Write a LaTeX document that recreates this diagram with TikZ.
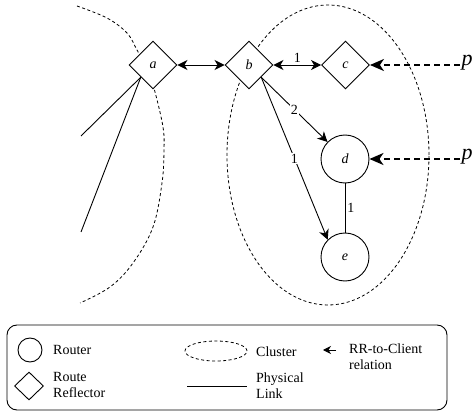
\documentclass[tikz,border=0pt]{standalone}
\usepackage{fontspec}
\setmainfont{Liberation Serif}
\usetikzlibrary{shapes.geometric,arrows.meta}
\begin{document}
\begin{tikzpicture}[x=1pt,y=-1pt,
  rr/.style={diamond, draw, fill=white, minimum width=48pt, minimum height=48pt,
    inner sep=0pt, line width=0.9pt, font=\fontsize{14}{16}\selectfont\itshape},
  router/.style={circle, draw, fill=white, minimum size=48pt, inner sep=0pt,
    line width=0.9pt, font=\fontsize{14}{16}\selectfont\itshape},
  link/.style={line width=0.9pt},
  tipone/.style={link, -{Stealth[length=10pt,width=10pt,inset=3pt]}},
  tiptwo/.style={link, {Stealth[length=10pt,width=10pt,inset=3pt]}-{Stealth[length=10pt,width=10pt,inset=3pt]}},
  cluster/.style={dash pattern=on 3pt off 2.5pt, line width=0.8pt},
  client/.style={line width=1.8pt, dash pattern=on 6pt off 4pt,
    -{Stealth[length=14pt,width=12pt,inset=4pt]}},
  weight/.style={font=\fontsize{14}{16}\selectfont, inner sep=1pt},
  ext/.style={font=\fontsize{22}{24}\selectfont\itshape, inner sep=1.5pt},
  legtext/.style={anchor=west, align=left, font=\fontsize{14}{16}\selectfont, inner sep=0pt}
]
\useasboundingbox (0,0) rectangle (475,412);

% clusters
\draw[cluster] plot[smooth, tension=0.6] coordinates {
  (77,6) (107,18) (127,33) (137,50) (148,70) (155,92) (163,127) (164,150)
  (162,183) (153,227) (133,263) (110,287) (80,303)};
\draw[cluster] (328,155) ellipse [x radius=101pt, y radius=150pt];

% routers and route reflectors
\node[rr] (a) at (153,65) {a};
\node[rr] (b) at (249,65) {b};
\node[rr] (c) at (345.5,65) {c};
\node[router] (d) at (345,159) {d};
\node[router] (e) at (345,257) {e};

% external peers
\node[ext] (p1) at (467,63) {p};
\node[ext] (p2) at (467,157) {p};

% dangling physical links
\coordinate (l1) at (81,136);
\coordinate (l2) at (81,232);
\draw[link] (a.south west) -- (l1);
\draw[link] (a.south west) -- (l2);

% sessions and links
\draw[tiptwo] (a.east) -- (b.west);
\draw[tiptwo] (b.east) -- node[weight, above=1pt] {1} (c.west);
\draw[tipone] (b.south east) -- node[weight, fill=white] {2} (d);
\draw[tipone] (b.south east) -- node[weight, fill=white] {1} (e.north west);
\draw[link] (d) -- node[weight, right=1pt] {1} (e);
\draw[client] (p1.west |- c.east) -- (c.east);
\draw[client] (p2.west |- d.east) -- (d.east);

% legend
\draw[line width=0.9pt, rounded corners=10pt] (7,325) rectangle (447,410);
\node[circle, draw, line width=0.9pt, minimum size=24pt, inner sep=0pt] (lr) at (30,350) {};
\node[legtext] (lrt) at (53,350) {Router};
\node[diamond, draw, line width=0.9pt, minimum width=29pt, minimum height=28pt, inner sep=0pt] (ld) at (29,386) {};
\node[legtext] (ldt) at (53,385) {Route\\Reflector};
\node[cluster, draw, ellipse, minimum width=62pt, minimum height=20pt, inner sep=0pt] (lc) at (216,351) {};
\node[legtext] (lct) at (256,352) {Cluster};
\coordinate (lls) at (187,386);
\coordinate (lle) at (247,386);
\draw[link] (lls) -- (lle);
\node[legtext] (llt) at (256,386) {Physical\\Link};
\coordinate (las) at (336,350);
\coordinate (lae) at (323,350);
\draw[link, -{Stealth[length=8pt,width=8pt,inset=2.5pt]}] (las) -- (lae);
\node[legtext] (lat) at (349,357) {RR-to-Client\\relation};
\end{tikzpicture}
\end{document}
